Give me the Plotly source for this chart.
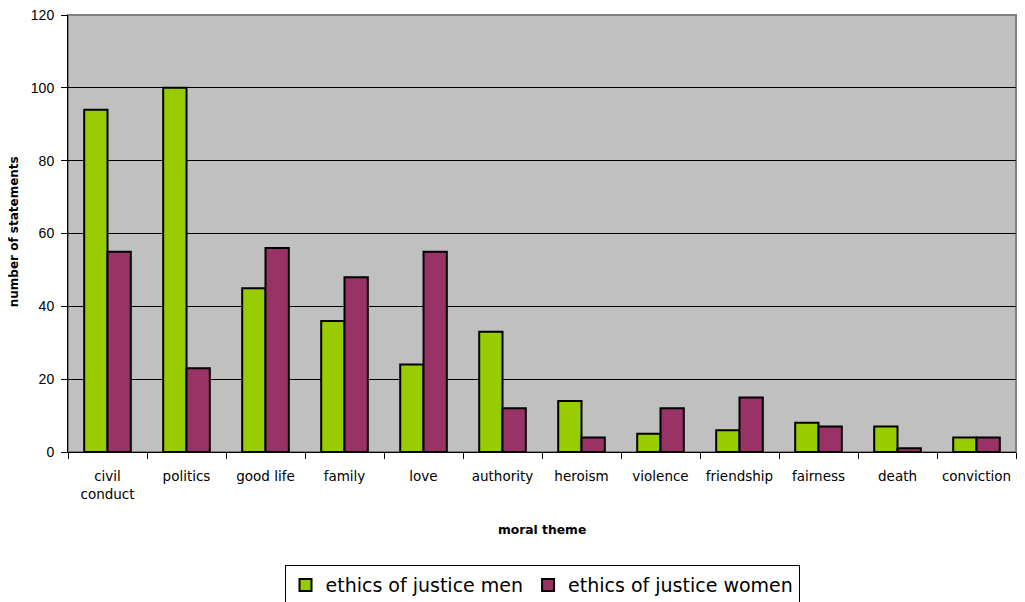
import plotly.graph_objects as go

MEN_COLOR = '#99cc00'
WOMEN_COLOR = '#993366'

themes = ['civil<br>conduct', 'politics', 'good life', 'family', 'love', 'authority',
          'heroism', 'violence', 'friendship', 'fairness', 'death', 'conviction']
men = [94, 100, 45, 36, 24, 33, 14, 5, 6, 8, 7, 4]
women = [55, 23, 56, 48, 55, 12, 4, 12, 15, 7, 1, 4]
y_ticks = [0, 20, 40, 60, 80, 100, 120]

fig = go.Figure(data=[
    go.Bar(name='ethics of justice men', x=themes, y=men,
           marker=dict(color=MEN_COLOR, line=dict(color='black', width=2))),
    go.Bar(name='ethics of justice women', x=themes, y=women,
           marker=dict(color=WOMEN_COLOR, line=dict(color='black', width=2))),
])

# page body has an 8px margin, so the figure is a bit smaller than the window
fig.update_layout(
    width=1017, height=594,
    barmode='group',
    bargap=0.41, bargroupgap=0,
    paper_bgcolor='white',
    plot_bgcolor='#c0c0c0',
    margin=dict(l=60, r=9, t=7, b=150, autoexpand=False),
    font=dict(family='DejaVu Sans', color='black'),
    showlegend=True,
    legend=dict(
        orientation='h',
        x=0.5, xanchor='center',
        y=-0.259, yanchor='top',
        bordercolor='black', borderwidth=1,
        font=dict(size=19, family='DejaVu Sans'),
        tracegroupgap=0,
    ),
    xaxis=dict(
        automargin=False,
        tickangle=0,
        tickfont=dict(size=13.5),
        tickson='boundaries',
        ticks='outside', ticklen=6, tickcolor='black',
        ticklabelstandoff=12,
        showline=True, linecolor='black', linewidth=1,
        showgrid=False,
    ),
    yaxis=dict(
        automargin=False,
        range=[0, 120],
        tickvals=y_ticks,
        tickfont=dict(size=14, family='Liberation Sans'),
        ticks='outside', ticklen=6, tickcolor='black',
        ticklabelstandoff=4,
        ticklabeloverflow='allow',
        showline=True, linecolor='black', linewidth=1,
        showgrid=True, gridcolor='black', gridwidth=0.7,
        zeroline=False,
    ),
    shapes=[dict(type='rect', xref='paper', yref='paper', x0=0, x1=1, y0=0, y1=1,
                 line=dict(color='#808080', width=2), layer='below')],
    annotations=[
        dict(text='<b>moral theme</b>', xref='paper', yref='paper', x=0.5, y=-0.178,
             xanchor='center', yanchor='middle', showarrow=False, font=dict(size=12.3)),
        dict(text='<b>number of statements</b>', xref='paper', yref='paper', x=-0.057, y=0.505,
             xanchor='center', yanchor='middle', textangle=-90, showarrow=False,
             font=dict(size=12)),
    ],
)

fig.write_html('out.html')
